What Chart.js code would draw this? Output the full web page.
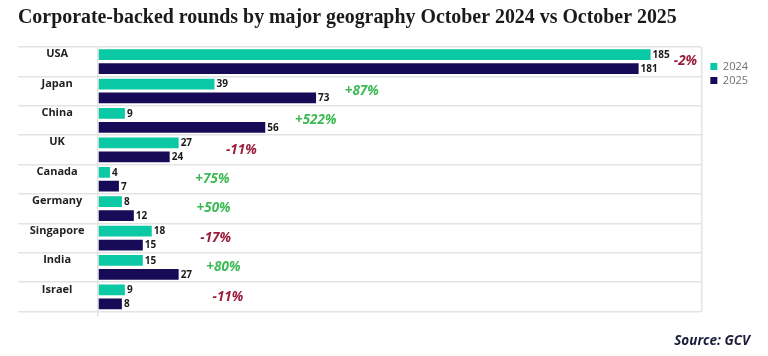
<!DOCTYPE html>
<html><head><meta charset="utf-8">
<script src="https://cdn.jsdelivr.net/npm/chart.js@4.4.1/dist/chart.umd.min.js"></script>
<style>html,body{margin:0;padding:0;background:#fff;}</style>
</head><body>
<canvas id="c" width="768" height="356"></canvas>
<script>
const categories = ['USA','Japan','China','UK','Canada','Germany','Singapore','India','Israel'];
const values2024 = [185,39,9,27,4,8,18,15,9];
const values2025 = [181,73,56,24,7,12,15,27,8];
const seriesLabels = ['2024','2025'];
const titleText = 'Corporate-backed rounds by major geography October 2024 vs October 2025';
const sourceText = 'Source: GCV';

const AXIS_MAX = 202;
const changeLabelX = [196.7, 88.3, 72.9, 48.0, 38.3, 38.7, 39.4, 42.0, 43.5];
const gridColor = '#e3e3e3';

const annot = {
  id: 'annot',
  afterDatasetsDraw(chart, args, opts) {
    const ctx = chart.ctx;
    ctx.save();
    ctx.font = '700 10px "Open Sans"';
    ctx.fillStyle = '#1a1a1a';
    ctx.textBaseline = 'middle';
    ctx.textAlign = 'left';
    chart.data.datasets.forEach((ds, di) => {
      chart.getDatasetMeta(di).data.forEach((bar, i) => {
        ctx.fillText(String(ds.data[i]), bar.x + 2, bar.y + 0.5);
      });
    });
    const xs = chart.scales.x, ys = chart.scales.y;
    ctx.font = 'italic 700 13.5px "Open Sans"';
    ctx.textAlign = 'center';
    categories.forEach((c, i) => {
      const pct = Math.round((values2025[i] / values2024[i] - 1) * 100);
      ctx.fillStyle = pct >= 0 ? '#3cba54' : '#9b1c3a';
      ctx.fillText((pct >= 0 ? '+' : '-') + Math.abs(pct) + '%', xs.getPixelForValue(changeLabelX[i]), ys.getPixelForValue(i));
    });
    ctx.restore();
  },
  afterDraw(chart) {
    const ctx = chart.ctx;
    ctx.save();
    ctx.font = 'italic 700 13.5px "Open Sans"';
    ctx.fillStyle = '#1c1c3a';
    ctx.textAlign = 'right';
    ctx.textBaseline = 'middle';
    ctx.fillText(sourceText, chart.width - 18, 341.5);
    ctx.restore();
  }
};

new Chart(document.getElementById('c'), {
  type: 'bar',
  data: {
    labels: categories,
    datasets: [
      { label: seriesLabels[0], data: values2024, backgroundColor: '#0bc9a5', borderWidth: 0 },
      { label: seriesLabels[1], data: values2025, backgroundColor: '#170b58', borderWidth: 0 }
    ]
  },
  options: {
    indexAxis: 'y',
    responsive: false,
    animation: false,
    categoryPercentage: 0.95,
    barPercentage: 0.77,
    layout: { padding: { left: 18, right: 10, top: 0, bottom: 39.4 } },
    plugins: {
      title: {
        display: true, text: titleText, align: 'start', color: '#1a1a1a',
        font: { family: 'Liberation Serif', size: 19.9, weight: 'bold' },
        padding: { top: 6.4, bottom: 16.6 }
      },
      legend: {
        position: 'right', align: 'start', fullSize: false,
        title: { display: true, text: ' ', font: { size: 1 }, padding: { top: 10, bottom: 0 } },
        labels: { boxWidth: 7, boxHeight: 7, padding: 3, color: '#707070', font: { family: 'Open Sans', size: 11 } }
      },
      tooltip: { enabled: false }
    },
    scales: {
      x: {
        min: 0, max: AXIS_MAX,
        afterBuildTicks(s) { s.ticks = [{ value: 0 }, { value: AXIS_MAX }]; },
        ticks: { display: false },
        border: { display: false },
        grid: {
          color: gridColor, lineWidth: 1.5, drawTicks: true, tickLength: 5,
          tickColor: c => (c.tick && c.tick.value === 0) ? gridColor : 'rgba(0,0,0,0)'
        }
      },
      y: {
        afterFit(s) { s.width = 80; },
        border: { display: false },
        grid: { color: gridColor, lineWidth: 1.5, drawTicks: true, tickLength: 80 },
        ticks: {
          crossAlign: 'center', padding: -66.5, labelOffset: -7.5, color: '#222',
          font: { family: 'Open Sans', size: 11, weight: 'bold' }
        }
      },
      pad: {
        axis: 'y', type: 'linear', position: 'right', display: true,
        afterFit(s) { s.width = 6; },
        ticks: { display: false }, grid: { display: false, drawTicks: false }, border: { display: false }
      }
    }
  },
  plugins: [annot]
});
</script>
</body></html>
